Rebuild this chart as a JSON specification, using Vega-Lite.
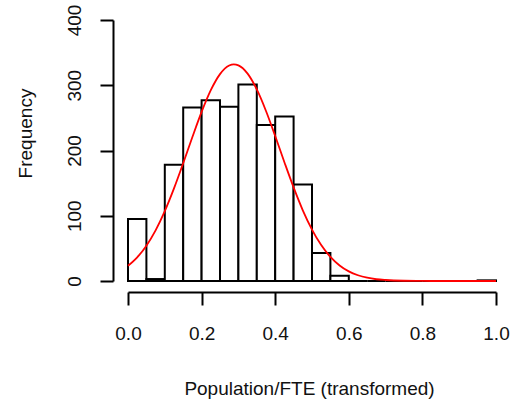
{
  "$schema": "https://vega.github.io/schema/vega-lite/v6.json",
  "autosize": "none",
  "width": 368,
  "height": 261,
  "padding": {"left": 128, "top": 20, "right": 20, "bottom": 124},
  "background": "white",
  "config": {
    "view": {"stroke": null},
    "font": "Liberation Sans",
    "axis": {
      "grid": false,
      "domainColor": "black",
      "domainWidth": 2,
      "tickColor": "black",
      "tickWidth": 2,
      "tickSize": 13,
      "labelColor": "#111111",
      "labelFontSize": 19,
      "labelFont": "Liberation Sans",
      "titleFont": "Liberation Sans",
      "titleFontSize": 19,
      "titleFontWeight": "normal",
      "titleColor": "#111111",
      "labelFlush": false,
      "labelOverlap": false
    }
  },
  "datasets": {
    "hist": [
      {"bin_start": 0.0, "bin_end": 0.05, "count": 95},
      {"bin_start": 0.05, "bin_end": 0.1, "count": 3},
      {"bin_start": 0.1, "bin_end": 0.15, "count": 178},
      {"bin_start": 0.15, "bin_end": 0.2, "count": 266},
      {"bin_start": 0.2, "bin_end": 0.25, "count": 277},
      {"bin_start": 0.25, "bin_end": 0.3, "count": 267},
      {"bin_start": 0.3, "bin_end": 0.35, "count": 301},
      {"bin_start": 0.35, "bin_end": 0.4, "count": 239},
      {"bin_start": 0.4, "bin_end": 0.45, "count": 252},
      {"bin_start": 0.45, "bin_end": 0.5, "count": 148},
      {"bin_start": 0.5, "bin_end": 0.55, "count": 43},
      {"bin_start": 0.55, "bin_end": 0.6, "count": 8},
      {"bin_start": 0.6, "bin_end": 0.65, "count": 0},
      {"bin_start": 0.65, "bin_end": 0.7, "count": 0},
      {"bin_start": 0.7, "bin_end": 0.75, "count": 0},
      {"bin_start": 0.75, "bin_end": 0.8, "count": 0},
      {"bin_start": 0.8, "bin_end": 0.85, "count": 0},
      {"bin_start": 0.85, "bin_end": 0.9, "count": 0},
      {"bin_start": 0.9, "bin_end": 0.95, "count": 0},
      {"bin_start": 0.95, "bin_end": 1.0, "count": 1}
    ],
    "curve": [
      {"x": 0.0, "y": 23.3},
      {"x": 0.025, "y": 36.3},
      {"x": 0.05, "y": 54.2},
      {"x": 0.075, "y": 77.7},
      {"x": 0.1, "y": 107.1},
      {"x": 0.125, "y": 141.9},
      {"x": 0.15, "y": 180.5},
      {"x": 0.175, "y": 220.6},
      {"x": 0.2, "y": 259.1},
      {"x": 0.225, "y": 292.4},
      {"x": 0.25, "y": 317.0},
      {"x": 0.275, "y": 330.2},
      {"x": 0.2875, "y": 332.0},
      {"x": 0.3, "y": 330.5},
      {"x": 0.325, "y": 317.8},
      {"x": 0.35, "y": 293.6},
      {"x": 0.375, "y": 260.6},
      {"x": 0.4, "y": 222.2},
      {"x": 0.425, "y": 182.1},
      {"x": 0.45, "y": 143.4},
      {"x": 0.475, "y": 108.4},
      {"x": 0.5, "y": 78.8},
      {"x": 0.525, "y": 55.0},
      {"x": 0.55, "y": 36.9},
      {"x": 0.575, "y": 23.8},
      {"x": 0.6, "y": 14.7},
      {"x": 0.625, "y": 8.8},
      {"x": 0.65, "y": 5.0},
      {"x": 0.675, "y": 2.7},
      {"x": 0.7, "y": 1.5},
      {"x": 0.75, "y": 0.36},
      {"x": 0.8, "y": 0.08},
      {"x": 0.85, "y": 0.01},
      {"x": 0.9, "y": 0.0},
      {"x": 0.95, "y": 0.0},
      {"x": 1.0, "y": 0.0}
    ]
  },
  "layer": [
    {
      "data": {"name": "hist"},
      "mark": {"type": "rect", "fill": "white", "stroke": "black", "strokeWidth": 2},
      "encoding": {
        "x": {
          "field": "bin_start", "type": "quantitative",
          "scale": {"domain": [0, 1], "nice": false, "zero": false},
          "axis": {
            "values": [0, 0.2, 0.4, 0.6, 0.8, 1.0],
            "format": ".1f",
            "offset": 11,
            "labelPadding": 19,
            "title": "Population/FTE (transformed)",
            "titleBaseline": "alphabetic",
            "titleY": 102,
            "titleX": 181
          }
        },
        "x2": {"field": "bin_end"},
        "y": {
          "field": "count", "type": "quantitative",
          "scale": {"domain": [0, 400], "nice": false},
          "axis": {
            "values": [0, 100, 200, 300, 400],
            "offset": 15,
            "labelAngle": -90,
            "labelAlign": "center",
            "labelBaseline": "bottom",
            "labelPadding": 16,
            "title": "Frequency",
            "titleAngle": -90,
            "titleAlign": "center",
            "titleBaseline": "middle",
            "titleX": -88,
            "titleY": 113
          }
        },
        "y2": {"datum": 0}
      }
    },
    {
      "data": {"name": "curve"},
      "mark": {"type": "line", "color": "red", "strokeWidth": 1.8, "interpolate": "monotone"},
      "encoding": {
        "x": {"field": "x", "type": "quantitative"},
        "y": {"field": "y", "type": "quantitative"}
      }
    }
  ]
}
